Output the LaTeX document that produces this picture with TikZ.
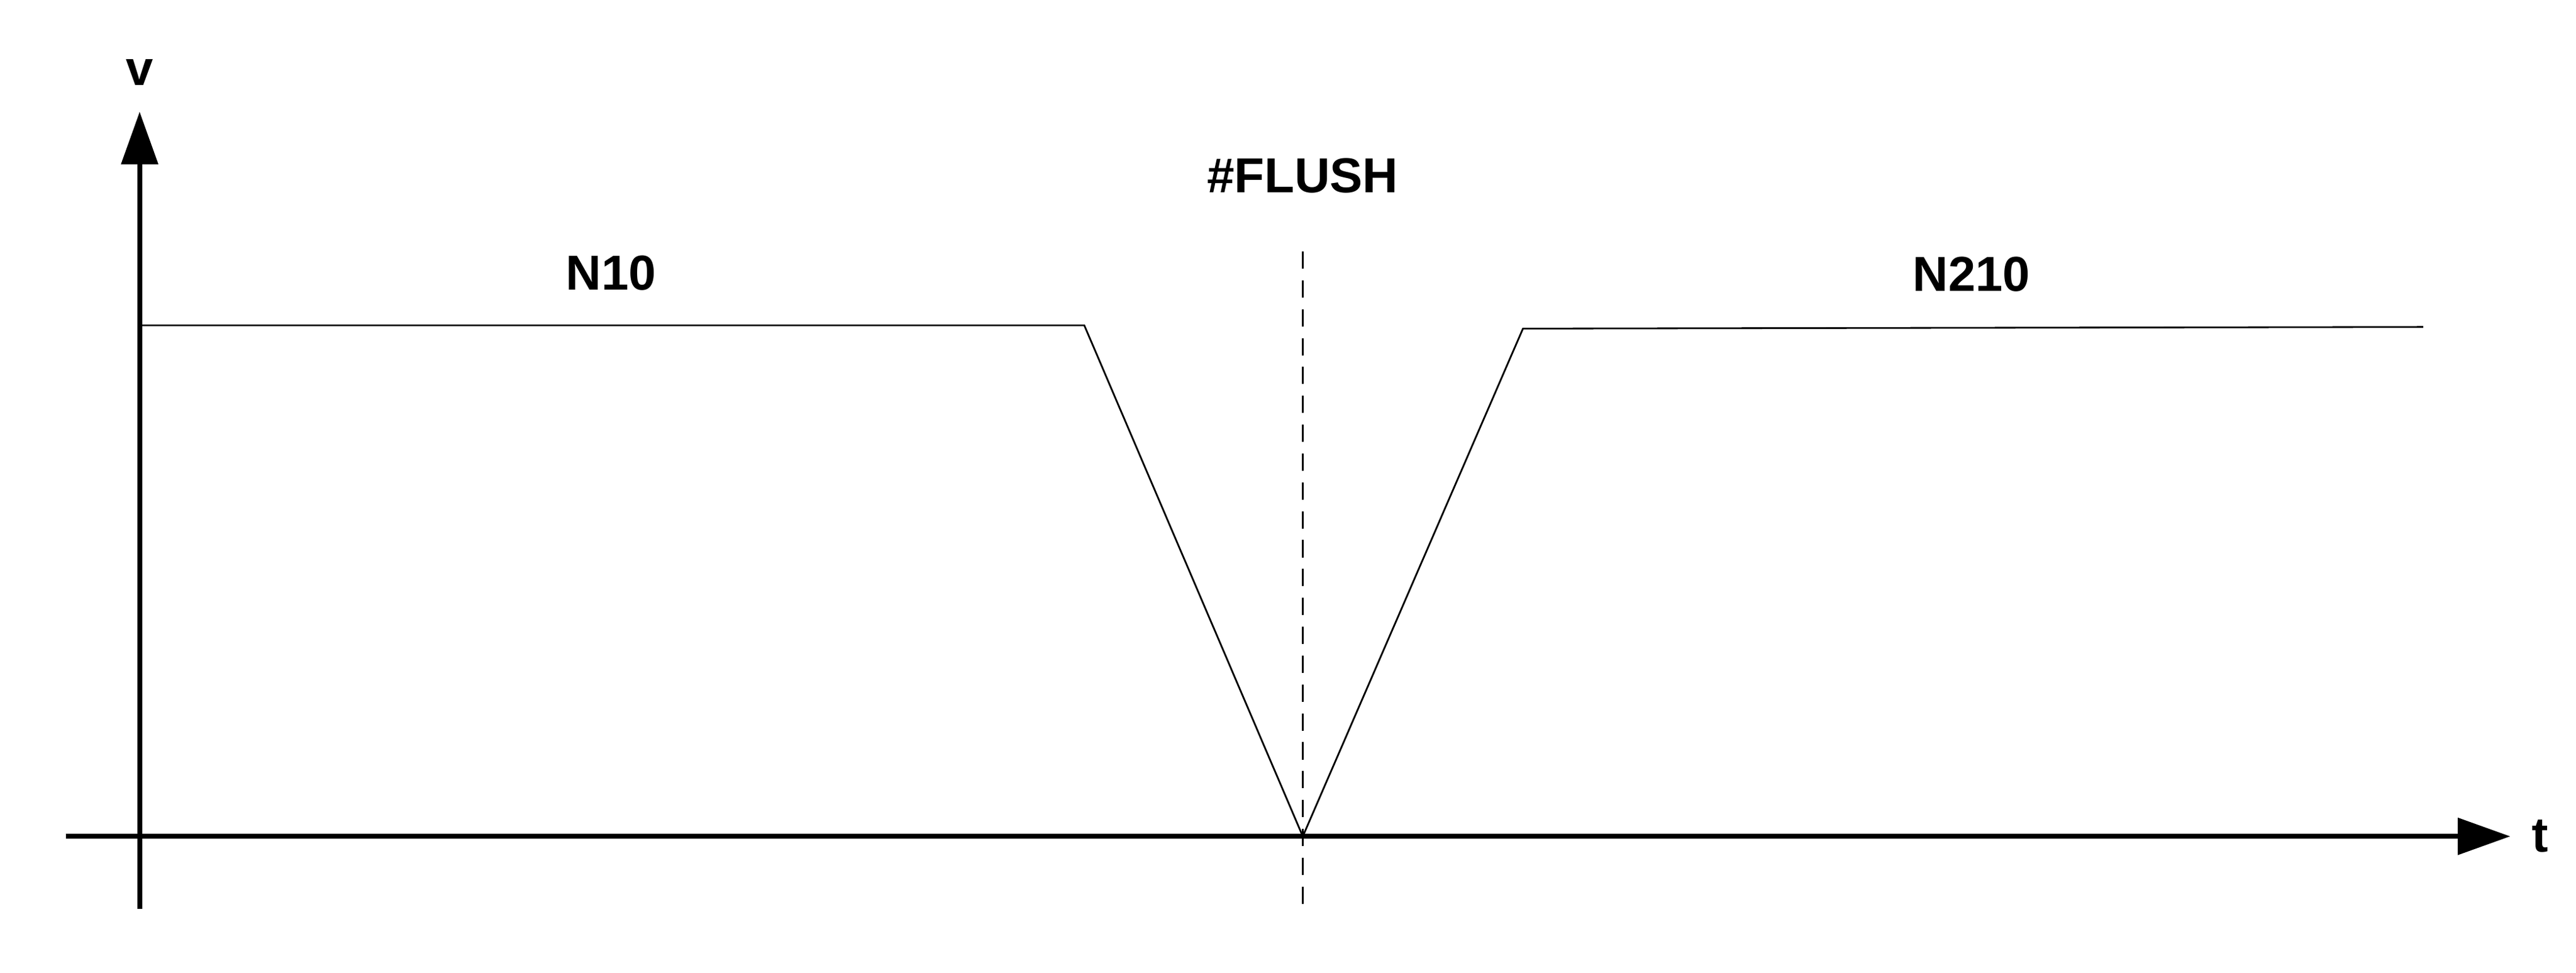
\documentclass[tikz,border=0pt]{standalone}
\usepackage{fontspec}
\setmainfont{Liberation Sans}
\usetikzlibrary{arrows.meta}
\begin{document}
\begin{tikzpicture}[x=0.02cm,y=-0.02cm,
  axis/.style={line width=1.7pt,-{Triangle[length=0.64cm,width=0.44cm]}},
  prof/.style={line width=0.6pt},
  lbl/.style={font=\fontsize{17}{20}\selectfont\bfseries}]
\useasboundingbox (0,0) rectangle (1568,592);
\coordinate (yb) at (85,553); \coordinate (yt) at (85,68);
\coordinate (xl) at (40,509); \coordinate (xr) at (1528,509);
\draw[axis] (yb) -- (yt);
\draw[axis] (xl) -- (xr);
\coordinate (p0) at (85,198); \coordinate (p1) at (660,198);
\coordinate (p2) at (793,509); \coordinate (p3) at (927,200);
\coordinate (p4) at (1475,199);
\draw[prof] (p0) -- (p1) -- (p2) -- (p3) -- (p4);
\coordinate (dt) at (793,153); \coordinate (db) at (793,553);
\draw[prof,dash pattern=on 6pt off 4pt] (dt) -- (db);
\node[lbl] (v) at (85,44) {v};
\node[lbl] (n10) at (372,166) {N10};
\node[lbl] (fl) at (793,107) {\#FLUSH};
\node[lbl] (n210) at (1200,167) {N210};
\node[lbl] (t) at (1546,509) {t};
\end{tikzpicture}
\end{document}
